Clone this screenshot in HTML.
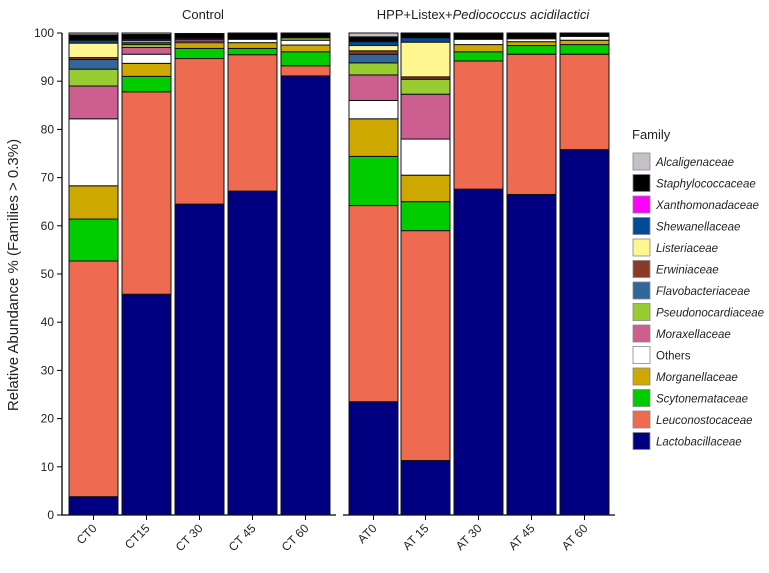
<!DOCTYPE html>
<html><head><meta charset="utf-8"><style>
body{margin:0;background:#fff;font-family:"Liberation Sans",sans-serif}
svg text{font-family:"Liberation Sans",sans-serif;fill:#222}
</style></head><body>
<svg id="c" width="769" height="568"></svg>
<script>
const families=["Lactobacillaceae","Leuconostocaceae","Scytonemataceae","Morganellaceae","Others","Moraxellaceae","Pseudonocardiaceae","Flavobacteriaceae","Erwiniaceae","Listeriaceae","Shewanellaceae","Xanthomonadaceae","Staphylococcaceae","Alcaligenaceae"];
const colors=["#000080","#EE6A50","#00CC00","#CCA800","#FFFFFF","#CC5F8F","#99CC33","#336699","#8B3A2A","#FFF68F","#004C99","#FF00FF","#000000","#C8C0C8"];
const samples=["CT0","CT15","CT 30","CT 45","CT 60","AT0","AT 15","AT 30","AT 45","AT 60"];
const lacto=[3.8,45.8,64.5,67.2,91.1,23.5,11.3,67.6,66.5,75.8];
const leuco=[48.9,42,30.2,28.3,2.1,40.7,47.7,26.6,29.1,19.8];
const scyto=[8.7,3.2,2.1,1.3,2.9,10.2,6.0,1.9,1.8,2.0];
const morg=[6.9,2.7,1.2,1.2,1.4,7.8,5.5,1.5,0.8,0.9];
const others=[13.9,1.9,0.3,0.7,1.0,3.8,7.5,1.1,0.6,0.8];
const morax=[6.8,1.4,0.4,0,0,5.3,9.3,0,0,0];
const pseudo=[3.5,0.6,0,0,0.5,2.5,3.1,0,0,0];
const flavo=[2.0,0.4,0,0,0,1.8,0,0,0,0];
const erwin=[0.4,0,0,0,0,0.7,0.5,0,0,0];
const listeria=[3.0,0.4,0,0,0,1.1,7.2,0,0,0];
const shewan=[0.6,0.3,0,0,0,0.8,0.9,0,0,0];
const xantho=[0,0,0.2,0,0,0,0,0,0,0];
const staph=[1.1,1.0,1.0,1.3,1.0,1.0,1.0,1.3,1.2,0.7];
const alcal=[0.4,0.3,0,0,0,0.8,0,0,0,0];
const yTicks=[0,10,20,30,40,50,60,70,80,90,100];
const series=[lacto,leuco,scyto,morg,others,morax,pseudo,flavo,erwin,listeria,shewan,xantho,staph,alcal];
const svg=document.getElementById('c');const NS="http://www.w3.org/2000/svg";
function el(t,a,txt){const e=document.createElementNS(NS,t);for(const k in a)e.setAttribute(k,a[k]);if(txt!==undefined)e.textContent=txt;svg.appendChild(e);return e;}
const y0=515,y100=33;function Y(v){return y0-(v/100)*(y0-y100);}
const barX=[69,122,175,228,281,349,401,454,507,560],bw=49;
function X(i){return barX[i];}
// axes
let e=el('line',{x1:62,y1:y100,x2:62,y2:y0,stroke:'#000','stroke-width':1.3});

e=el('line',{x1:62,y1:y0,x2:336,y2:y0,stroke:'#000','stroke-width':1.3});

e=el('line',{x1:343,y1:y0,x2:615,y2:y0,stroke:'#000','stroke-width':1.3});

yTicks.forEach(t=>{
 e=el('line',{x1:57,y1:Y(t),x2:62,y2:Y(t),stroke:'#000'});
 
 e=el('text',{x:54,y:Y(t)+4,'text-anchor':'end','font-size':12},t);
 
});
samples.forEach((s,i)=>{
 let acc=0;
 series.forEach((ser,k)=>{const v=ser[i];if(v<=0)return;
  const r=el('rect',{x:X(i),y:Y(acc+v),width:bw,height:Y(acc)-Y(acc+v),fill:colors[k],stroke:'#111','stroke-width':1});
  
  acc+=v;});
 const cx=X(i)+bw/2;
 e=el('line',{x1:cx,y1:y0,x2:cx,y2:y0+5,stroke:'#000'});
 
 e=el('text',{x:cx+4,y:y0+14,'text-anchor':'end','font-size':12,transform:`rotate(-45 ${cx+4} ${y0+14})`},s);
 
});
e=el('text',{x:18,y:275,'text-anchor':'middle','font-size':15,transform:'rotate(-90 18 275)'},'Relative Abundance % (Families > 0.3%)');

e=el('text',{x:203,y:19,'text-anchor':'middle','font-size':13},'Control');

e=el('text',{x:483,y:19,'text-anchor':'middle','font-size':13});
e.innerHTML='HPP+Listex+<tspan font-style="italic">Pediococcus acidilactici</tspan>';

e=el('text',{x:632,y:139,'font-size':13},'Family');

for(let k=13;k>=0;k--){const j=13-k;const ly=153+j*21.5;
 e=el('rect',{x:633,y:ly,width:17,height:17,fill:colors[k],stroke:'#888','stroke-width':0.8});
 
 e=el('text',{x:656,y:ly+13,'font-size':11.5,'font-style':families[k]==='Others'?'normal':'italic'},families[k]);
 
}
</script>
</body></html>
